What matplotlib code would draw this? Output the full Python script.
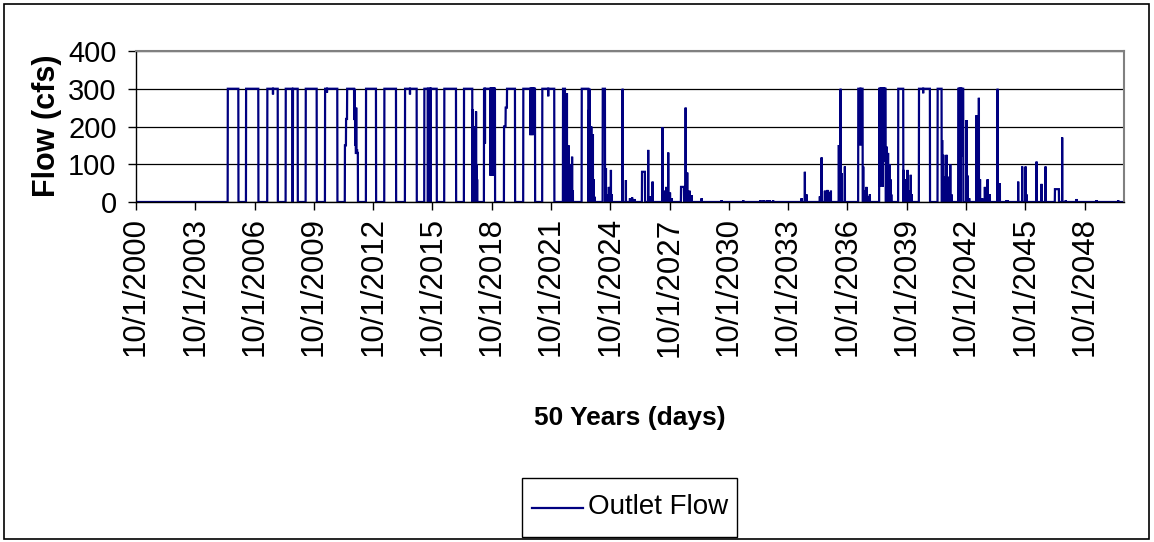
import numpy as np
import pandas as pd
import matplotlib
matplotlib.use("Agg")
import matplotlib.pyplot as plt
from matplotlib.lines import Line2D
from matplotlib.patches import Rectangle

plt.rcParams['font.family'] = ['Liberation Sans', 'DejaVu Sans']

# ---------------- data (days counted from 10/1/2000) ----------------
start_date = "2000-10-01"
end_date = "2050-09-30"

# sustained releases: start day, end day, flow (cfs)
seg_start = [1695, 2033, 2426, 2766, 2900, 3136, 3493,
             3860, 3881, 3901, 4031, 4061,
             4250, 4589, 4971, 5328, 5697, 6061, 6431,
             6801, 6831, 6856, 7157, 7508, 7891, 8237, 8625,
             9351, 10072, 13348, 13736, 14087, 14470, 14815, 15196, 16983]
seg_end = [1891, 2260, 2619, 2888, 2988, 3339, 3720,
           3880, 3900, 4030, 4060, 4100,
           4435, 4805, 5187, 5557, 5914, 6215, 6634,
           6830, 6855, 7004, 7374, 7730, 7928, 8359, 8667,
           9406, 10127, 13429, 13854, 14180, 14673, 14889, 15289, 17057]
seg_flow = [300, 300, 300, 300, 300, 300, 300,
            150, 220, 300, 220, 130,
            300, 300, 300, 300, 300, 300, 300,
            200, 250, 300, 300, 300, 300, 300, 300,
            80, 40, 300, 300, 300, 300, 300, 300, 34]

# single-day flows (storm peaks, dips inside releases)
spike_day = [2532, 3530, 4040, 4050, 4070, 4085, 5064, 5395, 5440, 5445,
             6225, 6235, 6245, 6255, 6265, 6275, 6285, 6295, 6305,
             6450, 6550, 6565, 6580, 6600, 6615, 6625,
             7290, 7300, 7310, 7330, 7345, 7360, 7619,
             7950, 7965, 7980, 7995, 8010, 8025, 8040, 8060, 8075,
             8370, 8385, 8400, 8415, 8430, 8445, 8460, 8475,
             8686, 8705, 8740, 8778, 8795,
             8994, 9055, 9130, 9170, 9215, 9467, 9500, 9548,
             9730, 9760, 9800, 9837, 9870, 9900,
             10159, 10188, 10230, 10269, 10454, 10824, 11223,
             11540, 11600, 11660, 11710, 11777,
             12302, 12363, 12394, 12640, 12672, 12733, 12780, 12820, 12844,
             12991, 13023, 13047, 13102, 13390,
             13441, 13472, 13500, 13530, 13564,
             13750, 13770, 13790, 13800, 13820, 13840,
             13870, 13885, 13900, 13915, 13930, 13945, 13960,
             14190, 14210, 14230, 14260, 14290, 14320, 14340, 14549,
             14900, 14920, 14935, 14955, 14980, 15000, 15030, 15050, 15074,
             15215, 15240, 15260, 15351, 15370, 15400,
             15536, 15579, 15600, 15640, 15690, 15740, 15782,
             15924, 15967, 16091, 16115, 16305, 16379, 16442, 16460,
             16645, 16737, 16811, 17118, 17186, 17384, 17754, 18153]
spike_flow = [285, 290, 300, 150, 250, 140, 285, 0, 0, 0,
              245, 120, 200, 60, 180, 80, 240, 100, 60,
              155, 70, 120, 70, 150, 70, 90,
              177, 300, 200, 177, 250, 190, 280,
              80, 288, 60, 150, 60, 100, 55, 120, 30,
              244, 300, 138, 200, 100, 180, 60, 14,
              90, 20, 40, 85, 20,
              300, 58, 10, 12, 8, 138, 15, 54,
              198, 30, 40, 131, 25, 10,
              250, 78, 30, 18, 10, 5, 5,
              5, 5, 5, 5, 4,
              10, 80, 20, 15, 118, 30, 32, 25, 30,
              151, 300, 76, 94, 150,
              94, 30, 40, 15, 20,
              40, 107, 200, 40, 107, 150,
              147, 40, 130, 40, 100, 60, 20,
              85, 20, 60, 85, 30, 72, 20, 288,
              164, 125, 32, 67, 125, 40, 67, 100, 20,
              164, 0, 120, 217, 70, 10,
              230, 276, 60, 10, 40, 60, 20,
              300, 50, 5, 5, 54, 94, 94, 20,
              107, 48, 94, 171, 5, 8, 5, 5]

tick_years = [2000, 2003, 2006, 2009, 2012, 2015, 2018, 2021, 2024,
              2027, 2030, 2033, 2036, 2039, 2042, 2045, 2048]
y_ticks = [0, 100, 200, 300, 400]
series_name = "Outlet Flow"

# ---------------- build daily series ----------------
dates = pd.date_range(start_date, end_date, freq="D")
flow = np.zeros(len(dates))
for s, e, v in zip(seg_start, seg_end, seg_flow):
    flow[s:e + 1] = v
for d, v in zip(spike_day, spike_flow):
    flow[d] = v

# ---------------- figure ----------------
W, H = 1154, 542
fig = plt.figure(figsize=(W / 100, H / 100), dpi=100)
ax = fig.add_axes([136 / W, 1 - 202 / H, (1124 - 136) / W, (202 - 51) / H])

line_color = "#000080"
ax.plot(dates, flow, color=line_color, lw=1.6, solid_joinstyle="miter")

ax.set_ylim(0, 400)
ax.set_yticks(y_ticks)
ax.set_yticklabels([str(v) for v in y_ticks], fontsize=21)
ax.set_xlim(dates[0], dates[-1])
tick_pos = [pd.Timestamp(f"{y}-10-01") for y in tick_years]
ax.set_xticks(tick_pos)
ax.set_xticklabels([f"10/1/{y}" for y in tick_years], rotation=90, fontsize=22.5)
ax.tick_params(axis="both", direction="out", length=6, width=1, color="black")
ax.tick_params(axis="y", pad=8)
ax.tick_params(axis="x", pad=5)

ax.grid(axis="y", color="black", lw=0.9)
ax.set_axisbelow(True)
for side in ["left", "bottom"]:
    ax.spines[side].set_color("black")
    ax.spines[side].set_linewidth(1)
for side in ["top", "right"]:
    ax.spines[side].set_color("#808080")
    ax.spines[side].set_linewidth(1.5)

fig.text(47 / W, 1 - 126 / H, "Flow (cfs)", rotation=90, fontsize=22,
         fontweight="bold", ha="center", va="center")
fig.text(630 / W, 1 - 418 / H, "50 Years (days)", fontsize=19,
         fontweight="bold", ha="center", va="center")

# legend box (Excel style)
fig.patches.append(Rectangle((522 / W, 1 - 537 / H), (737 - 522) / W, (537 - 478) / H,
                             transform=fig.transFigure, fill=True, facecolor="white",
                             edgecolor="black", lw=1))
fig.lines.append(Line2D([532 / W, 583 / W], [1 - 507.5 / H, 1 - 507.5 / H],
                        transform=fig.transFigure, color=line_color, lw=1.6))
fig.text(588 / W, 1 - 507.5 / H, series_name, fontsize=20, ha="left", va="center")

fig.patches.append(Rectangle((4 / W, 3 / H), (1149 - 4) / W, (538 - 3) / H,
                             transform=fig.transFigure, fill=False,
                             edgecolor="black", lw=1.2))

fig.savefig("out.png", dpi=100)
